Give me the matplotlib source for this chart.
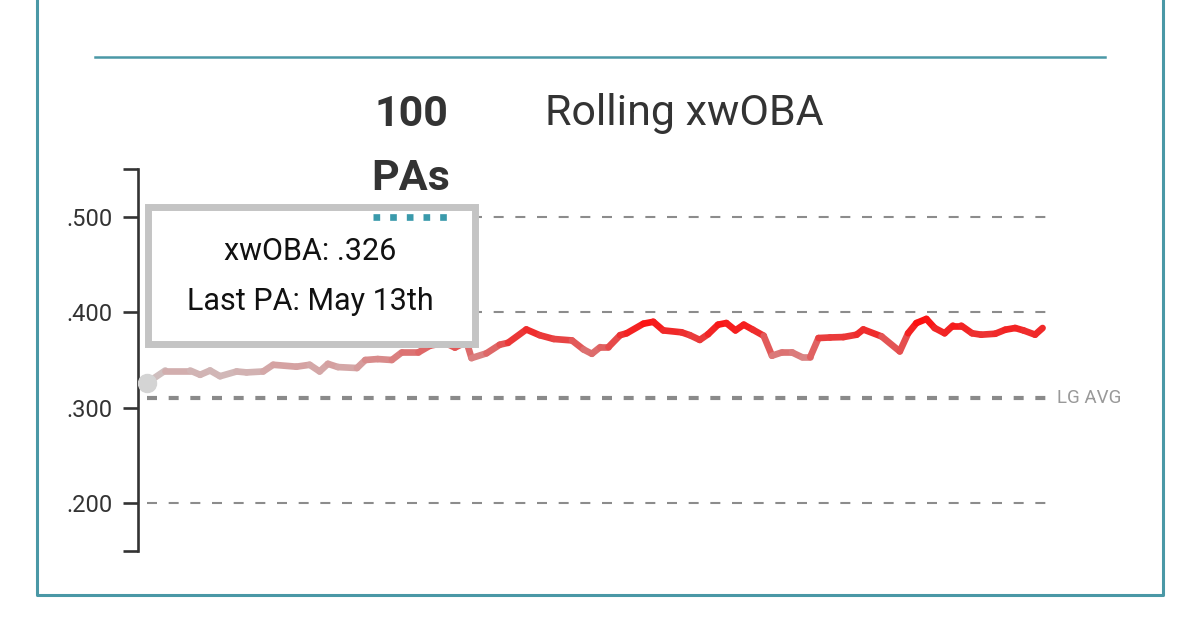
import numpy as np
import matplotlib.pyplot as plt
from matplotlib.collections import LineCollection
from matplotlib.colors import LinearSegmentedColormap, Normalize
from matplotlib.patches import Rectangle
from matplotlib.lines import Line2D

plt.rcParams['font.family'] = ['Roboto', 'DejaVu Sans']

# rolling 100-PA xwOBA
pa = [0, 2.2, 5.2, 6.4, 7.6, 8.8, 10.8, 12.0, 14.0, 15.2, 18.0, 19.6, 20.8, 21.8,
      23.0, 25.3, 26.3, 27.8, 29.5, 30.7, 32.7, 34.1, 35.9, 37.1, 38.5, 39.1,
      40.9, 42.5, 43.5, 45.7, 47.3, 49.0, 51.2, 52.6, 53.6, 54.6, 55.6, 57.0,
      57.8, 59.8, 61.0, 62.2, 64.4, 65.4, 66.6, 67.6, 68.8, 69.8, 70.9, 71.9,
      73.0, 74.3, 75.3, 76.5, 77.7, 78.9, 79.9, 80.9, 82.3, 83.9, 85.5, 86.3,
      88.5, 90.7, 91.7, 92.7, 93.9, 94.9, 96.1, 97.1, 98.1, 99.4, 100.5, 102.2,
      103.4, 104.6, 105.6, 107.0, 107.9]
xwoba = [.326, .339, .339, .3345, .339, .333, .338, .337, .338, .345, .343, .345,
         .338, .346, .3426, .3416, .350, .351, .350, .358, .358, .365, .368, .363,
         .369, .352, .357, .366, .368, .382, .376, .372, .3705, .361, .3565, .3635,
         .3635, .376, .378, .388, .390, .381, .379, .376, .371, .377, .387, .3887,
         .381, .387, .3817, .3754, .3545, .358, .358, .353, .353, .373, .3736,
         .374, .3765, .382, .3747, .359, .378, .3887, .393, .3835, .378, .386,
         .386, .378, .3765, .3775, .3817, .3835, .381, .3765, .3835]

lg_avg = .310
grid_vals = [.200, .400, .500]
tick_vals = [.15, .200, .300, .400, .500, .55]
tick_labels = ['', '.200', '.300', '.400', '.500', '']

tooltip_lines = ['xwOBA: .326', 'Last PA: May 13th']

teal = '#4a98a6'
dark = '#333333'

fig = plt.figure(figsize=(12, 6.42), dpi=100)
W, H = 1200, 642

def fx(px):
    return px / W

def fy(py):
    return 1 - py / H

ax = fig.add_axes([fx(138), fy(551), fx(1055) - fx(138), fy(169) - fy(551)])
ax.set_xlim(-9 / 8.3, (1055 - 147) / 8.3)
ax.set_ylim(.15, .55)

# gridlines
for g in grid_vals:
    ax.hlines(g, 0, 108.8, colors='#8c8c8c', lw=1.5, linestyles=(0, (4.8, 5.6)), zorder=1)
ax.hlines(lg_avg, 0, 108.8, colors='#8a8a8a', lw=3, linestyles=(0, (2.4, 2.8)), zorder=1)
ax.text(109.6, lg_avg, 'LG AVG', color='#999999', fontsize=13.5, va='center', ha='left',
        clip_on=False)

# gradient line coloured by value
x = np.array(pa)
y = np.array(xwoba)
pts = np.column_stack([x, y]).reshape(-1, 1, 2)
segs = np.concatenate([pts[:-1], pts[1:]], axis=1)
mid = (y[:-1] + y[1:]) / 2
cmap = LinearSegmentedColormap.from_list('gr', ['#cccccc', '#d5a3a3', '#dd6c6c', '#ec3232', '#ff0a0a'])
lc = LineCollection(segs, cmap=cmap, norm=Normalize(.327, .393), lw=4.8,
                    capstyle='round', joinstyle='round', zorder=3)
lc.set_array(mid)
ax.add_collection(lc)
ax.plot(x[0], y[0], 'o', ms=13, color='#d4d4d4', zorder=4)

# axis
for s in ['top', 'right', 'bottom']:
    ax.spines[s].set_visible(False)
ax.spines['left'].set_color(dark)
ax.spines['left'].set_linewidth(1.9)
ax.set_xticks([])
ax.set_yticks(tick_vals)
ax.set_yticklabels(tick_labels)
ax.tick_params(axis='y', length=11, width=1.9, color=dark, labelcolor=dark,
               labelsize=17, pad=7)

# title
fig.text(fx(411), fy(126), '100', ha='center', va='baseline', fontsize=31,
         fontweight='bold', color=dark)
fig.text(fx(411), fy(190), 'PAs', ha='center', va='baseline', fontsize=31,
         fontweight='bold', color=dark)
fig.text(fx(545), fy(125), 'Rolling xwOBA', ha='left', va='baseline', fontsize=31,
         color=dark)

# tooltip
bx0, by0, bx1, by1 = 147.5, 206.5, 474.5, 343.5
fig.add_artist(Rectangle((fx(bx0), fy(by1)), fx(bx1) - fx(bx0), fy(by0) - fy(by1),
                         transform=fig.transFigure, facecolor='white',
                         edgecolor='#c4c4c4', lw=5, zorder=5))
fig.text(fx(310), fy(252), tooltip_lines[0], ha='center', va='center', fontsize=22,
         color='#111111', zorder=6)
fig.text(fx(310), fy(302), tooltip_lines[1], ha='center', va='center', fontsize=22,
         color='#111111', zorder=6)

# teal dotted underline under "PAs"
fig.add_artist(Line2D([fx(373), fx(449)], [fy(216.5), fy(216.5)], color='#3a9aab',
                      lw=4.8, linestyle=(0, (1, 1.5)), transform=fig.transFigure,
                      zorder=7))

# frame
fig.add_artist(Line2D([fx(37), fx(37), fx(1163), fx(1163)], [1.01, fy(595), fy(595), 1.01],
                      color=teal, lw=2.2, transform=fig.transFigure))
fig.add_artist(Line2D([fx(95), fx(1105)], [fy(56.5), fy(56.5)], color=teal, lw=1.8,
                      transform=fig.transFigure))

fig.savefig('out.png', dpi=100)
